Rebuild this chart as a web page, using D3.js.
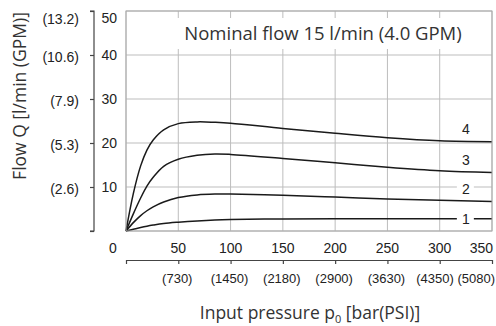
<!DOCTYPE html>
<html>
<head>
<meta charset="utf-8">
<style>
	body { margin: 0; background: #fff; }
	.grid line { stroke: #bdbdbd; stroke-width: 1; }
	.curve { fill: none; stroke: #1a1a1a; stroke-width: 1.5; }
	.num { font-family: 'Liberation Sans Narrow', 'Arial Narrow', 'Liberation Sans', sans-serif; font-size: 14px; fill: #222; }
	.ttl { font-family: 'Open Sans', 'Noto Sans', sans-serif; font-size: 17.5px; fill: #333; }
</style>
</head>
<body>
<svg width="496" height="326"></svg>
<script src="https://d3js.org/d3.v7.min.js"></script>
<script>

// pressure in bar, flow in l/min
var pressure = [0, 7, 14, 20, 26, 36, 50, 68, 85, 100, 150, 200, 250, 300, 350];
var flow1 = [0, 0.4, 0.8, 1.1, 1.35, 1.7, 2.0, 2.3, 2.5, 2.6, 2.75, 2.8, 2.8, 2.8, 2.8];
var flow2 = [0, 1.9, 3.5, 4.6, 5.5, 6.6, 7.6, 8.2, 8.4, 8.4, 8.1, 7.7, 7.3, 7.0, 6.7];
var flow3 = [0, 3.9, 7.5, 10.2, 12.2, 14.7, 16.3, 17.2, 17.5, 17.4, 16.5, 15.5, 14.5, 13.7, 13.3];
var flow4 = [0, 8.5, 14.8, 18.4, 20.7, 23.0, 24.4, 24.8, 24.7, 24.5, 23.3, 22.2, 21.2, 20.5, 20.3];

var curveNames = ["1", "2", "3", "4"];
// where each curve number sits (bar, l/min)
var labelPos = [[325, 2.75], [325, 9.6], [325, 16.2], [325, 23.1]];

var flowTicks = [10, 20, 30, 40, 50];
var gpmLabels = ["(2.6)", "(5.3)", "(7.9)", "(10.6)", "(13.2)"];
var barTicks = [0, 50, 100, 150, 200, 250, 300, 350];
var psiLabels = ["(730)", "(1450)", "(2180)", "(2900)", "(3630)", "(4350)", "(5080)"];

var svg = d3.select("svg");

var x = d3.scaleLinear().domain([0, 350]).range([126, 492]);
var y = d3.scaleLinear().domain([0, 50]).range([231, 11]);

// grid
var grid = svg.append("g").attr("class", "grid");
grid.selectAll(".gx").data(barTicks).enter().append("line")
	.attr("x1", function (d) { return x(d); })
	.attr("x2", function (d) { return x(d); })
	.attr("y1", y(0)).attr("y2", y(50));
grid.selectAll(".gy").data([0].concat(flowTicks)).enter().append("line")
	.attr("x1", x(0)).attr("x2", x(350))
	.attr("y1", function (d) { return y(d); })
	.attr("y2", function (d) { return y(d); });

// white box behind the title
svg.append("rect")
	.attr("x", 172).attr("y", 18).attr("width", 302).attr("height", 31)
	.attr("fill", "#fff");

svg.append("text")
	.attr("class", "ttl")
	.style("font-size", "18.5px")
	.attr("x", 323).attr("y", 40)
	.attr("text-anchor", "middle")
	.text("Nominal flow 15 l/min (4.0 GPM)");

// curves
var series = [flow1, flow2, flow3, flow4];
var line = d3.line()
	.x(function (d, i) { return x(pressure[i]); })
	.y(function (d) { return y(d); })
	.curve(d3.curveCatmullRom.alpha(0.5));

svg.selectAll(".curve").data(series).enter().append("path")
	.attr("class", "curve")
	.attr("d", line);

// curve numbers (white patch behind breaks the line)
var lab = svg.selectAll(".clab").data(curveNames).enter().append("g")
	.attr("transform", function (d, i) {
		return "translate(" + x(labelPos[i][0]) + "," + y(labelPos[i][1]) + ")";
	});
lab.append("rect")
	.attr("x", -9).attr("y", -8).attr("width", 17).attr("height", 16)
	.attr("fill", "#fff");
lab.append("text")
	.attr("class", "num")
	.attr("text-anchor", "middle")
	.attr("dy", "0.36em")
	.text(function (d) { return d; });

// flow numbers next to the plot
svg.selectAll(".fl").data(flowTicks).enter().append("text")
	.attr("class", "num")
	.attr("x", 117)
	.attr("y", function (d) { return d == 50 ? y(d) + 7 : y(d); })
	.attr("dy", "0.36em")
	.attr("text-anchor", "end")
	.text(function (d) { return d; });

// GPM bracket axis on the left
var gpm = svg.append("g").attr("transform", "translate(94,0)");
gpm.call(d3.axisLeft(y).tickValues([0].concat(flowTicks)).tickSize(4).tickFormat(""));
gpm.select(".domain").attr("d", "M-4," + y(0) + "H0V" + y(50) + "H-4");
gpm.selectAll("path, line").attr("stroke", "#444").attr("stroke-width", 1.2);

svg.selectAll(".gpm").data(flowTicks).enter().append("text")
	.attr("class", "num")
	.attr("x", 79)
	.attr("y", function (d) { return d == 50 ? y(d) + 8 : y(d) + 2; })
	.attr("dy", "0.36em")
	.attr("text-anchor", "end")
	.text(function (d, i) { return gpmLabels[i]; });

// bar numbers under the plot
svg.selectAll(".bl").data(barTicks).enter().append("text")
	.attr("class", "num")
	.attr("x", function (d) { return d == 0 ? 113 : (d == 350 ? 493 : x(d)); })
	.attr("y", 248)
	.attr("dy", "0.36em")
	.attr("text-anchor", function (d) { return d == 350 ? "end" : "middle"; })
	.text(function (d) { return d; });

// PSI axis
var psi = svg.append("g").attr("transform", "translate(0,260)");
psi.call(d3.axisBottom(x).tickValues(barTicks).tickSize(4).tickSizeOuter(0).tickFormat(""));
psi.selectAll("path, line").attr("stroke", "#444").attr("stroke-width", 1.2);

svg.selectAll(".psi").data(barTicks.slice(1)).enter().append("text")
	.attr("class", "num")
	.style("font-size", "13px")
	.attr("x", function (d) { return d == 350 ? 495 : (d == 300 ? 435 : x(d) - 1); })
	.attr("y", 278)
	.attr("dy", "0.36em")
	.attr("text-anchor", function (d) { return d == 350 ? "end" : "middle"; })
	.text(function (d, i) { return psiLabels[i]; });

// plot frame
svg.append("rect")
	.attr("x", x(0)).attr("y", y(50))
	.attr("width", x(350) - x(0)).attr("height", y(0) - y(50))
	.attr("fill", "none").attr("stroke", "#aaa").attr("stroke-width", 1);

// axis titles
var xt = svg.append("text")
	.attr("class", "ttl")
	.attr("x", 310).attr("y", 319)
	.attr("text-anchor", "middle");
xt.append("tspan").text("Input pressure p");
xt.append("tspan").attr("dy", 4).style("font-size", "11px").text("0");
xt.append("tspan").attr("dy", -4).text(" [bar(PSI)]");

svg.append("text")
	.attr("class", "ttl")
	.attr("transform", "translate(26,96) rotate(-90)")
	.attr("text-anchor", "middle")
	.text("Flow Q [l/min (GPM)]");

</script>
</body>
</html>
